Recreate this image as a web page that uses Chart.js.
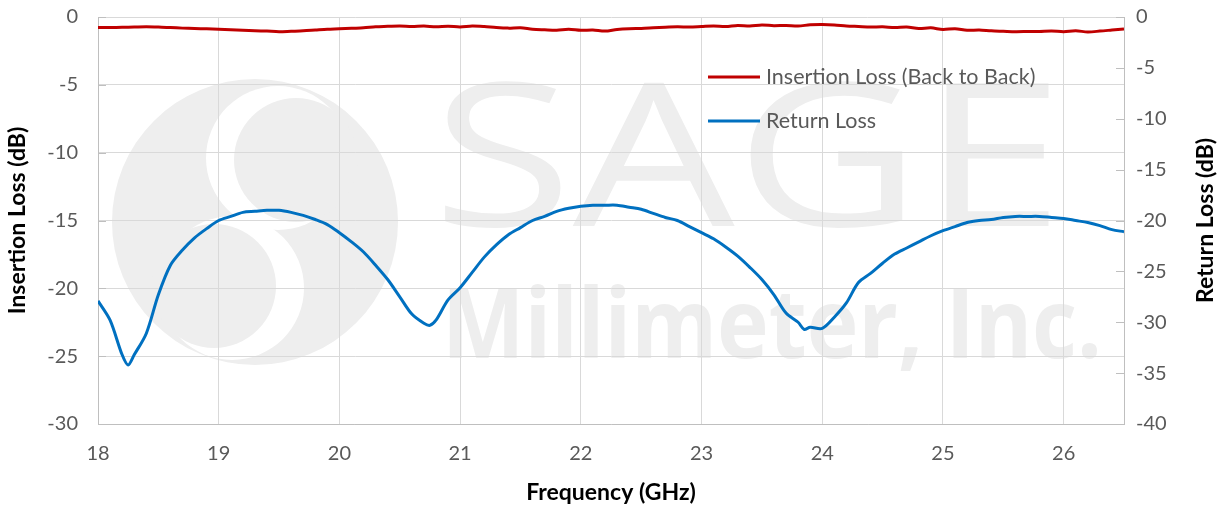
<!DOCTYPE html>
<html lang="en">
<head>
  <meta charset="UTF-8" />
  <title>Insertion Loss / Return Loss</title>
  <script src="https://cdn.jsdelivr.net/npm/chart.js"></script>
  <style>
    html, body { margin: 0; padding: 0; background: #ffffff; }
    #wrap { position: relative; width: 1225px; height: 510px; }
  </style>
</head>
<body>
<div id="wrap"><canvas id="lossChart"></canvas></div>
<script>
  // Insertion loss (left axis)
  const ilFreq = [18.0,18.1,18.2,18.3,18.4,18.5,18.6,18.7,18.8,18.9,
                  19.0,19.1,19.2,19.3,19.4,19.5,19.6,19.7,19.8,19.9,
                  20.0,20.1,20.2,20.3,20.4,20.5,20.6,20.7,20.8,20.9,
                  21.0,21.1,21.2,21.3,21.4,21.5,21.6,21.7,21.8,21.9,
                  22.0,22.1,22.2,22.3,22.4,22.5,22.6,22.7,22.8,22.9,
                  23.0,23.1,23.2,23.3,23.4,23.5,23.6,23.7,23.8,23.9,
                  24.0,24.1,24.2,24.3,24.4,24.5,24.6,24.7,24.8,24.9,
                  25.0,25.1,25.2,25.3,25.4,25.5,25.6,25.7,25.8,25.9,
                  26.0,26.1,26.2,26.3,26.4,26.5];
  const ilValues = [-0.78,-0.77,-0.76,-0.74,-0.72,-0.74,-0.78,-0.82,-0.85,-0.87,
                    -0.90,-0.94,-0.97,-1.01,-1.04,-1.08,-1.05,-1.02,-0.96,-0.90,
                    -0.87,-0.83,-0.80,-0.72,-0.69,-0.66,-0.70,-0.67,-0.72,-0.68,
                    -0.73,-0.66,-0.70,-0.78,-0.82,-0.79,-0.90,-0.94,-0.97,-0.90,
                    -0.98,-0.96,-1.04,-0.92,-0.86,-0.84,-0.80,-0.76,-0.72,-0.74,
                    -0.70,-0.66,-0.70,-0.62,-0.66,-0.59,-0.64,-0.62,-0.66,-0.58,
                    -0.56,-0.59,-0.66,-0.70,-0.74,-0.72,-0.78,-0.74,-0.85,-0.80,
                    -0.92,-0.86,-0.98,-0.96,-1.02,-1.05,-1.08,-1.07,-1.06,-1.03,
                    -1.08,-1.02,-1.10,-1.04,-0.96,-0.88];

  // Return loss (right axis)
  const rlFreq = [18.0,18.1,18.2,18.25,18.3,18.4,18.5,18.6,18.7,18.8,18.9,
                  19.0,19.1,19.2,19.3,19.4,19.5,19.6,19.7,19.8,19.9,
                  20.0,20.1,20.2,20.3,20.4,20.5,20.6,20.7,20.75,20.8,20.9,
                  21.0,21.1,21.2,21.3,21.4,21.5,21.6,21.7,21.8,21.9,
                  22.0,22.1,22.2,22.3,22.4,22.5,22.6,22.7,22.8,22.9,
                  23.0,23.1,23.2,23.3,23.4,23.5,23.6,23.7,23.8,23.85,23.9,
                  24.0,24.1,24.2,24.3,24.4,24.5,24.6,24.7,24.8,24.9,
                  25.0,25.1,25.2,25.3,25.4,25.5,25.6,25.7,25.8,25.9,
                  26.0,26.1,26.2,26.3,26.4,26.5];
  const rlValues = [-27.9,-29.8,-33.2,-34.2,-33.2,-31.1,-27.3,-24.4,-22.9,-21.7,-20.8,
                    -20.0,-19.6,-19.2,-19.1,-19.0,-19.0,-19.2,-19.5,-19.9,-20.4,
                    -21.2,-22.1,-23.1,-24.4,-25.8,-27.5,-29.2,-30.1,-30.3,-29.8,-27.8,
                    -26.6,-25.1,-23.6,-22.4,-21.4,-20.7,-20.0,-19.6,-19.1,-18.8,
                    -18.6,-18.5,-18.5,-18.5,-18.7,-18.9,-19.3,-19.7,-20.0,-20.6,
                    -21.2,-21.8,-22.6,-23.5,-24.6,-25.8,-27.3,-29.1,-30.0,-30.7,-30.5,
                    -30.6,-29.5,-28.1,-26.1,-25.2,-24.2,-23.3,-22.7,-22.1,-21.5,
                    -21.0,-20.6,-20.2,-20.0,-19.9,-19.7,-19.6,-19.6,-19.6,-19.7,
                    -19.8,-20.0,-20.2,-20.5,-20.9,-21.1];

  const seriesNames = ['Insertion Loss (Back to Back)', 'Return Loss'];
  const seriesColors = ['#c00000', '#0070c0'];
  const xTicks = [18, 19, 20, 21, 22, 23, 24, 25, 26];
  const rightTitle = 'Return Loss (dB)';

  const pairs = (xs, ys) => xs.map((x, i) => ({ x: x, y: ys[i] }));

  const tickFont = { family: 'Lato, "Open Sans", sans-serif', size: 20 };
  const titleFont = { family: 'Lato, "Open Sans", sans-serif', size: 23, weight: 'bold' };

  // faint company logo behind the grid
  const watermark = {
    id: 'watermark',
    beforeDraw(chart) {
      const ctx = chart.ctx;
      const grey = '#eeeeee';
      ctx.save();
      // round S mark
      ctx.beginPath();
      ctx.arc(255, 222, 143, 0, Math.PI * 2);
      ctx.fillStyle = grey;
      ctx.fill();
      ctx.clip();
      ctx.fillStyle = '#ffffff';
      ctx.beginPath(); ctx.arc(278, 158, 72, 0, Math.PI * 2); ctx.fill();
      ctx.fillStyle = grey;
      ctx.beginPath(); ctx.arc(296, 160, 62, 0, Math.PI * 2); ctx.fill();
      ctx.fillStyle = '#ffffff';
      ctx.beginPath(); ctx.arc(232, 288, 72, 0, Math.PI * 2); ctx.fill();
      ctx.fillStyle = grey;
      ctx.beginPath(); ctx.arc(214, 286, 62, 0, Math.PI * 2); ctx.fill();
      ctx.restore();

      ctx.save();
      ctx.fillStyle = grey;
      ctx.textBaseline = 'alphabetic';
      ctx.font = '200px "Open Sans", sans-serif';
      let w = ctx.measureText('SAGE').width;
      ctx.save();
      ctx.translate(432, 226);
      ctx.scale(632 / w, 1);
      ctx.fillText('SAGE', 0, 0);
      ctx.restore();
      ctx.font = 'bold 96px "Open Sans", sans-serif';
      w = ctx.measureText('Millimeter, Inc.').width;
      ctx.translate(442, 358);
      ctx.scale(660 / w, 1);
      ctx.fillText('Millimeter, Inc.', 0, 0);
      ctx.restore();
    }
  };

  // short inward tick marks on both value axes
  const innerTicks = {
    id: 'innerTicks',
    afterDatasetsDraw(chart) {
      const ctx = chart.ctx;
      ctx.save();
      ctx.strokeStyle = '#bfbfbf';
      ctx.lineWidth = 1;
      [['yIL', 1], ['yRL', -1]].forEach(([id, dir]) => {
        const s = chart.scales[id];
        const x0 = dir > 0 ? s.right : s.left;
        s.ticks.forEach(t => {
          const y = Math.round(s.getPixelForValue(t.value)) + 0.5;
          ctx.beginPath();
          ctx.moveTo(x0, y);
          ctx.lineTo(x0 + dir * 8, y);
          ctx.stroke();
        });
      });
      ctx.restore();
    }
  };

  // legend inside the plot + right axis title reading bottom-to-top
  const innerLegend = {
    id: 'innerLegend',
    afterDraw(chart) {
      const ctx = chart.ctx;
      const rows = [77, 121];
      ctx.save();
      chart.data.datasets.forEach((ds, i) => {
        ctx.strokeStyle = ds.borderColor;
        ctx.lineWidth = 3;
        ctx.beginPath();
        ctx.moveTo(708, rows[i]);
        ctx.lineTo(760, rows[i]);
        ctx.stroke();
        ctx.fillStyle = '#595959';
        ctx.font = '21.5px Lato, "Open Sans", sans-serif';
        ctx.textBaseline = 'middle';
        ctx.fillText(ds.label, 766, rows[i]);
      });
      const area = chart.chartArea;
      ctx.translate(1206, (area.top + area.bottom) / 2);
      ctx.rotate(-Math.PI / 2);
      ctx.fillStyle = '#000000';
      ctx.font = 'bold 23px Lato, "Open Sans", sans-serif';
      ctx.textAlign = 'center';
      ctx.textBaseline = 'middle';
      ctx.fillText(rightTitle, 0, 0);
      ctx.restore();
    }
  };

  const fixY = (w) => (s) => { s.width = w; s.paddingTop = 0; s.paddingBottom = 0; };

  new Chart(document.getElementById('lossChart'), {
    type: 'line',
    data: {
      datasets: [
        {
          label: seriesNames[0],
          data: pairs(ilFreq, ilValues),
          yAxisID: 'yIL',
          borderColor: seriesColors[0],
          borderWidth: 3,
          pointRadius: 0,
          tension: 0.3
        },
        {
          label: seriesNames[1],
          data: pairs(rlFreq, rlValues),
          yAxisID: 'yRL',
          borderColor: seriesColors[1],
          borderWidth: 3,
          pointRadius: 0,
          tension: 0.3
        }
      ]
    },
    options: {
      responsive: true,
      maintainAspectRatio: false,
      animation: false,
      layout: { padding: { top: 17, left: 0, right: 0, bottom: 0 } },
      plugins: { legend: { display: false }, tooltip: { enabled: false } },
      scales: {
        x: {
          type: 'linear',
          min: 18,
          max: 26.5,
          afterBuildTicks: (s) => { s.ticks = xTicks.map(v => ({ value: v })); },
          grid: { color: '#d9d9d9', drawTicks: false },
          border: { color: '#bfbfbf' },
          ticks: { color: '#595959', font: tickFont, padding: 18, maxRotation: 0 },
          title: { display: true, text: 'Frequency (GHz)', color: '#000000', font: titleFont, padding: { top: 8 } },
          afterFit: (s) => { s.height = 86; s.paddingLeft = 0; s.paddingRight = 0; }
        },
        yIL: {
          position: 'left',
          min: -30,
          max: 0,
          ticks: { stepSize: 5, color: '#595959', font: tickFont, padding: 20 },
          grid: { color: '#d9d9d9', drawTicks: false },
          border: { color: '#bfbfbf' },
          title: { display: true, text: 'Insertion Loss (dB)', color: '#000000', font: titleFont, padding: { bottom: 0 } },
          afterFit: fixY(98)
        },
        yRL: {
          position: 'right',
          min: -40,
          max: 0,
          ticks: { stepSize: 5, color: '#595959', font: tickFont, padding: 12 },
          grid: { drawOnChartArea: false, drawTicks: false },
          border: { color: '#bfbfbf' },
          afterFit: fixY(101)
        }
      }
    },
    plugins: [watermark, innerTicks, innerLegend]
  });
</script>
</body>
</html>
